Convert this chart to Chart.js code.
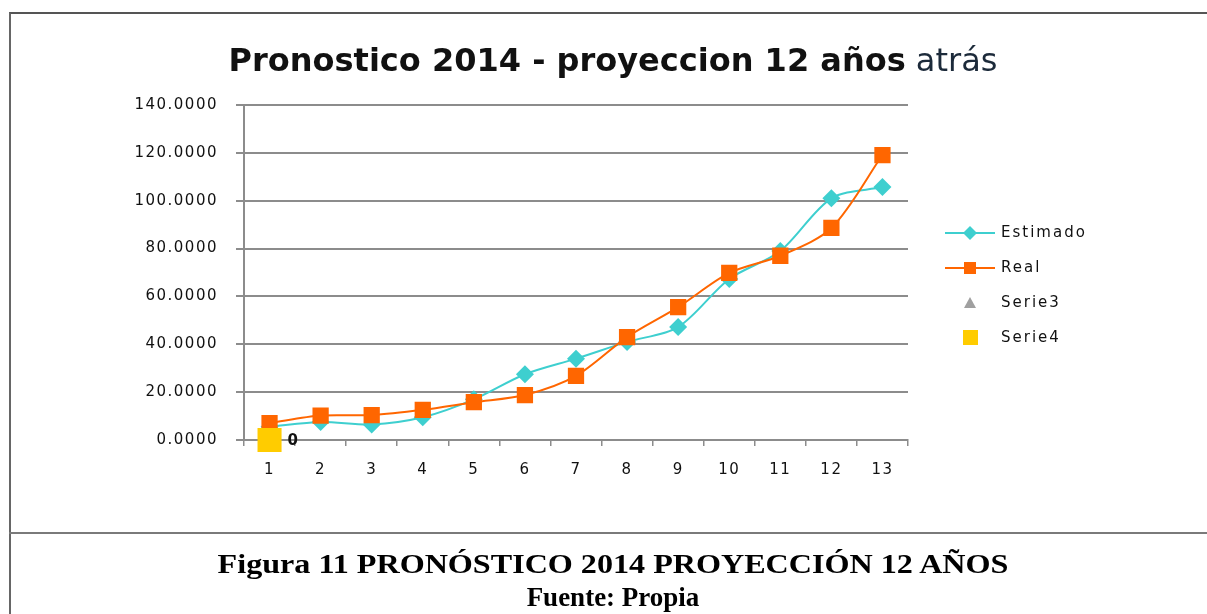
<!DOCTYPE html>
<html>
<head>
<meta charset="utf-8">
<script src="https://cdn.jsdelivr.net/npm/chart.js@4.4.1/dist/chart.umd.min.js"></script>
<style>
	body { margin: 0; width: 1207px; height: 614px; background: #fff; position: relative; overflow: hidden; }
	#box { position: absolute; left: 9px; top: 12px; width: 1300px; height: 700px; border-left: 2px solid #666; border-top: 2px solid #555; }
	#sep { position: absolute; left: 9px; top: 532px; width: 1300px; border-top: 2px solid #7a7a7a; }
	#wrap { position: absolute; left: 0; top: 0; width: 1207px; height: 614px; }
	#title { position: absolute; left: 0; width: 1226px; top: 41px; text-align: center; font-family: "DejaVu Sans", Verdana, sans-serif; font-size: 32px; color: #111; white-space: nowrap; letter-spacing: 0px; }
	#title b { font-weight: bold; }
	#title span { font-weight: normal; color: #1c2a3a; }
	.cap { position: absolute; left: 0; width: 1226px; text-align: center; font-family: "Liberation Serif", "Times New Roman", serif; font-weight: bold; font-size: 27px; color: #000; white-space: nowrap; }
	#cap1 { transform: scaleX(1.19); transform-origin: 613px 0; }
</style>
</head>
<body>
<div id="box"></div>
<div id="sep"></div>
<div id="wrap"><canvas id="myChart" width="1207" height="614"></canvas></div>
<div id="title"><b>Pronostico 2014 - proyeccion 12 años</b> <span>atrás</span></div>
<div class="cap" id="cap1" style="top:549px">Figura 11 PRONÓSTICO 2014 PROYECCIÓN 12 AÑOS</div>
<div class="cap" style="top:582px">Fuente: Propia</div>
<script>
// VALUES
let labels = ["1", "2", "3", "4", "5", "6", "7", "8", "9", "10", "11", "12", "13"];
let estimado = [5.5, 7.5, 6.5, 9.5, 17, 27.5, 34, 41, 47.2, 67.3, 79, 101, 105.7];
let real = [7.1, 10.2, 10.4, 12.6, 15.8, 18.8, 26.8, 43, 55.5, 69.8, 77, 88.6, 119.1];
let serie3 = [null, null, null, null, null, null, null, null, null, null, null, null, null];
let serie4 = [0, null, null, null, null, null, null, null, null, null, null, null, null];
let yTicks = [0, 20, 40, 60, 80, 100, 120, 140];

const tickFont = { family: "DejaVu Sans", size: 15 };

// DRAW THE LABEL "0" NEXT TO SERIE4 AND THE LEGEND ON THE RIGHT
const extras = {
	id: "extras",
	beforeDraw(chart) {
		chart.ctx.letterSpacing = "1.5px";
	},
	afterDatasetsDraw(chart) {
		const c = chart.ctx;
		const meta = chart.getDatasetMeta(3);
		const p = meta.data[0];
		c.save();
		c.letterSpacing = "0px";
		c.font = "bold 15px 'DejaVu Sans'";
		c.fillStyle = "#111";
		c.textBaseline = "middle";
		c.fillText(String(serie4[0]), p.x + 18, p.y + 1);
		c.restore();
	},
	afterDraw(chart) {
		const c = chart.ctx;
		const x0 = 945, x1 = 995, tx = 1001;
		const rows = [233, 268, 303, 338];
		c.save();
		c.letterSpacing = "2px";
		c.font = "15px 'DejaVu Sans'";
		c.textBaseline = "middle";
		// Estimado
		c.strokeStyle = "#3ECFCF";
		c.lineWidth = 2;
		c.beginPath(); c.moveTo(x0, rows[0]); c.lineTo(x1, rows[0]); c.stroke();
		c.fillStyle = "#3ECFCF";
		c.beginPath(); c.moveTo(970, rows[0] - 7); c.lineTo(977, rows[0]); c.lineTo(970, rows[0] + 7); c.lineTo(963, rows[0]); c.closePath(); c.fill();
		// Real
		c.strokeStyle = "#FF6600";
		c.beginPath(); c.moveTo(x0, rows[1]); c.lineTo(x1, rows[1]); c.stroke();
		c.fillStyle = "#FF6600";
		c.fillRect(964, rows[1] - 6, 12, 12);
		// Serie3
		c.fillStyle = "#A0A0A0";
		c.beginPath(); c.moveTo(970, rows[2] - 6); c.lineTo(976, rows[2] + 5); c.lineTo(964, rows[2] + 5); c.closePath(); c.fill();
		// Serie4
		c.fillStyle = "#FFCC00";
		c.fillRect(963, rows[3] - 8, 15, 15);
		c.fillStyle = "#111";
		const names = chart.data.datasets.map(d => d.label);
		for (let i = 0; i < names.length; i++) {
			c.fillText(names[i], tx, rows[i]);
		}
		c.restore();
	}
};

const ctx = document.getElementById("myChart").getContext("2d");
const myChart = new Chart(ctx, {
	type: "line",
	data: {
		labels: labels,
		datasets: [
			{
				label: "Estimado",
				data: estimado,
				order: 2,
				borderColor: "#3ECFCF",
				backgroundColor: "#3ECFCF",
				borderWidth: 2,
				pointStyle: "rectRot",
				pointRadius: 9,
				pointBorderWidth: 0,
				tension: 0.3,
			},
			{
				label: "Real",
				data: real,
				order: 1,
				borderColor: "#FF6600",
				backgroundColor: "#FF6600",
				borderWidth: 2,
				pointStyle: "rect",
				pointRadius: 11.5,
				pointBorderWidth: 0,
				tension: 0.3,
			},
			{
				label: "Serie3",
				data: serie3,
				order: 3,
				showLine: false,
				backgroundColor: "#A0A0A0",
				pointStyle: "triangle",
				pointRadius: 8,
			},
			{
				label: "Serie4",
				data: serie4,
				order: 0,
				clip: false,
				showLine: false,
				backgroundColor: "#FFCC00",
				borderWidth: 0,
				pointStyle: "rect",
				pointRadius: 17,
			},
		],
	},
	options: {
		responsive: false,
		animation: false,
		layout: { padding: { left: 0, top: 105, right: 299, bottom: 0 } },
		plugins: { legend: { display: false }, title: { display: false }, tooltip: { enabled: false } },
		scales: {
			x: {
				offset: true,
				grid: { offset: true, drawOnChartArea: false, color: "#8c8c8c", lineWidth: 1.5, tickLength: 6 },
				border: { color: "#8c8c8c", width: 2 },
				ticks: { font: tickFont, color: "#111", padding: 15, maxRotation: 0 },
				afterFit(scale) { scale.height = 174; },
			},
			y: {
				min: 0,
				max: 140,
				afterBuildTicks(scale) { scale.ticks = yTicks.map(v => ({ value: v })); },
				grid: { color: "#8c8c8c", lineWidth: 2, tickLength: 8 },
				border: { color: "#8c8c8c", width: 2 },
				ticks: { font: tickFont, color: "#111", padding: 18, callback: v => Number(v).toFixed(4) },
				afterFit(scale) { scale.width = 244; },
			},
		},
	},
	plugins: [extras],
});
</script>
</body>
</html>
